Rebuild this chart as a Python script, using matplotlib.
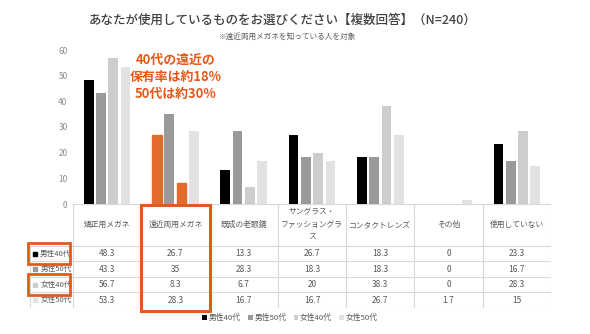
import matplotlib
matplotlib.use("Agg")
import matplotlib.pyplot as plt
from matplotlib.patches import Rectangle
import numpy as np

plt.rcParams["font.family"] = ["Noto Sans CJK JP", "DejaVu Sans"]

# ── data ─────────────────────────────────────────────────────────────────────
categories = ["矯正用メガネ", "遠近両用メガネ", "既成の老眼鏡",
              "サングラス・\nファッショングラ\nス", "コンタクトレンズ",
              "その他", "使用していない"]
series_names = ["男性40代", "男性50代", "女性40代", "女性50代"]
male40 = [48.3, 26.7, 13.3, 26.7, 18.3, 0, 23.3]
male50 = [43.3, 35, 28.3, 18.3, 18.3, 0, 16.7]
female40 = [56.7, 8.3, 6.7, 20, 38.3, 0, 28.3]
female50 = [53.3, 28.3, 16.7, 16.7, 26.7, 1.7, 15]
series = [male40, male50, female40, female50]
y_ticks = [0, 10, 20, 30, 40, 50, 60]

title = "あなたが使用しているものをお選びください【複数回答】（N=240）"
subtitle = "※遠近両用メガネを知っている人を対象"
note = "40代の遠近の\n保有率は約18%\n50代は約30%"

# ── style ────────────────────────────────────────────────────────────────────
colors = ["#000000", "#9a9a9a", "#cdcdcd", "#e2e2e2"]
ORANGE = "#e3692c"
BOX = "#e05c1e"
TXT = "#595959"
GRID = "#d9d9d9"
highlight_cat = 1
highlight_series = [0, 2]

W, H = 590, 334
fig = plt.figure(figsize=(W / 100, H / 100), dpi=100)

# ── bars ─────────────────────────────────────────────────────────────────────
ax = fig.add_axes([73 / W, 1 - 204 / H, 478 / W, 154 / H])
x = np.arange(len(categories))
pitch, width = 0.18, 0.142
handles = []
for k, (vals, name) in enumerate(zip(series, series_names)):
    bars = ax.bar(x + (k - 1.5) * pitch, vals, width=width, color=colors[k],
                  label=name, zorder=2)
    if k in highlight_series:
        bars[highlight_cat].set_color(ORANGE)
    handles.append(bars)
ax.set_xlim(-0.5, len(categories) - 0.5)
ax.set_ylim(0, 60)
ax.set_yticks(y_ticks)
ax.tick_params(axis="y", length=0, pad=4, labelsize=6, labelcolor="#8c8c8c")
ax.set_xticks([])
for s in ax.spines.values():
    s.set_visible(False)

ax.text(1, 49.5, note, ha="center", va="center", color="#e8581a",
        fontsize=9.3, fontweight="bold", linespacing=1.3)

# ── data table ───────────────────────────────────────────────────────────────
lab_w = 0.63
head_h = 2.7
n_rows = len(series)
bottom = head_h + n_rows
tx = fig.add_axes([30 / W, 1 - 308 / H, 521 / W, 104 / H])
tx.set_xlim(-0.5 - lab_w, len(categories) - 0.5)
tx.set_ylim(bottom, 0)
tx.axis("off")

tx.plot([-0.5, len(categories) - 0.5], [0, 0], color=GRID, lw=0.8)
for r in range(n_rows + 1):
    yy = head_h + r
    tx.plot([-0.5 - lab_w, len(categories) - 0.5], [yy, yy], color=GRID, lw=0.8)
for c in range(len(categories) + 1):
    tx.plot([c - 0.5, c - 0.5], [0, bottom], color=GRID, lw=0.8)
tx.plot([-0.5 - lab_w] * 2, [head_h, bottom], color=GRID, lw=0.8)

for i, cat in enumerate(categories):
    tx.text(i, head_h / 2, cat, ha="center", va="center", fontsize=5.6,
            color=TXT, linespacing=1.75)
    for r, vals in enumerate(series):
        tx.text(i, head_h + r + 0.5, f"{vals[i]:g}", ha="center", va="center",
                fontsize=6, color=TXT)

for r, name in enumerate(series_names):
    yy = head_h + r + 0.5
    tx.plot(-0.5 - lab_w + 0.08, yy, marker="s", ms=3.0, color=colors[r],
            linestyle="none")
    tx.text(-0.52, yy, name, ha="right", va="center", fontsize=5.5, color=TXT)

# orange call-out boxes
tx.add_patch(Rectangle((0.5, 0.06), 1.0, bottom + 0.12, fill=False,
                       edgecolor=BOX, lw=2.2, clip_on=False, zorder=5))
for r in highlight_series:
    tx.add_patch(Rectangle((-0.5 - lab_w - 0.03, head_h + r - 0.17), lab_w - 0.02,
                           1.32, fill=False, edgecolor=BOX, lw=2.0,
                           clip_on=False, zorder=5))

# ── legend & titles ──────────────────────────────────────────────────────────
fig.legend(handles=handles, labels=series_names, loc="center",
           bbox_to_anchor=(290 / W, 1 - 318 / H), ncol=4, frameon=False,
           fontsize=5.6, handlelength=0.6, handleheight=0.6, handletextpad=0.25,
           columnspacing=0.9, labelcolor=TXT)

fig.text(283 / W, 1 - 20 / H, title, ha="center", va="center", fontsize=9.0,
         color="#404040", fontweight="medium")
fig.text(288 / W, 1 - 37 / H, subtitle, ha="center", va="center", fontsize=5.5,
         color=TXT)

fig.savefig("out.png", dpi=100)
